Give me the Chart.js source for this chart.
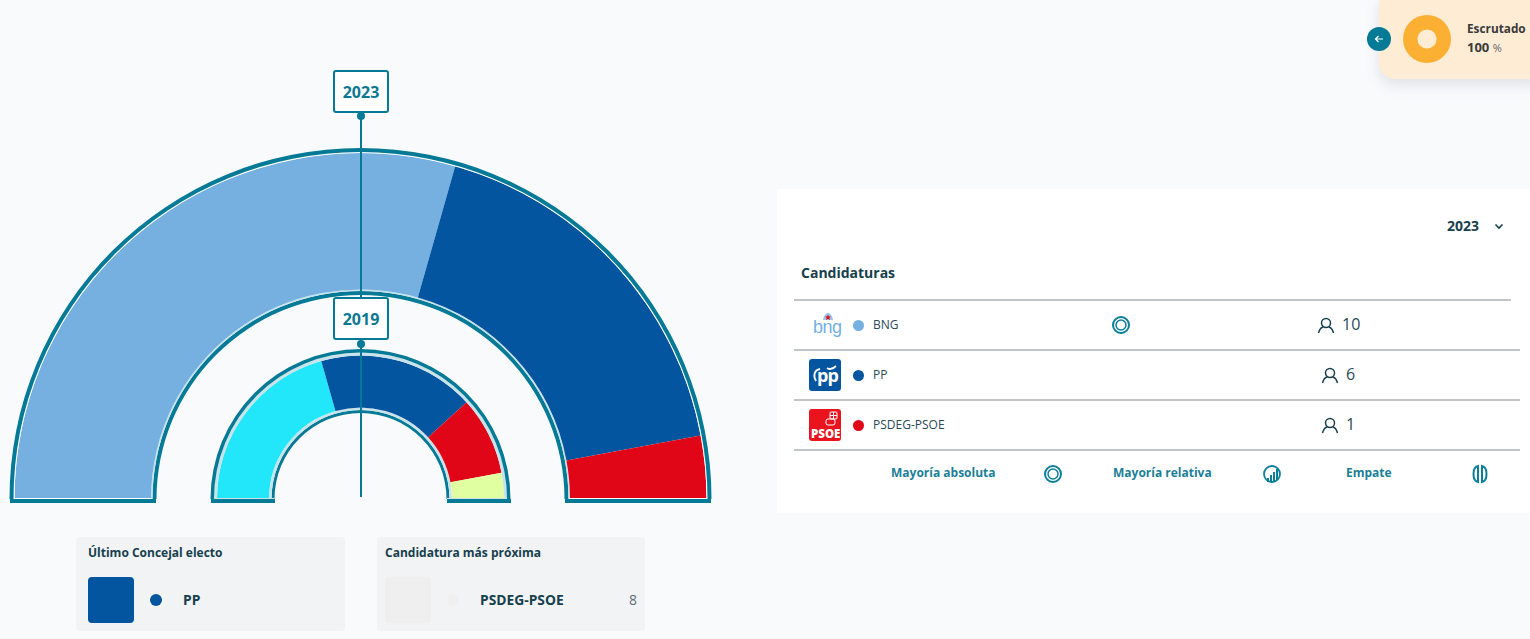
<!DOCTYPE html>
<html>
<head>
<meta charset="utf-8">
<title>Resultados</title>
<script src="https://cdn.jsdelivr.net/npm/chart.js@4/dist/chart.umd.min.js"></script>
<style>
  html, body { margin: 0; padding: 0; }
  body { width: 1530px; height: 639px; background: #f9fafc; font-family: "Open Sans", sans-serif; color: #17404d; position: relative; overflow: hidden; }
  .abs, .abs-t { position: absolute; }
  .abs-t { white-space: nowrap; line-height: 1; transform: translateY(-50%); }
  .teal { background: #047a96; }
  .yearbox { left: 333px; width: 52px; height: 39px; background: #fff; border: 2px solid #047a96; border-radius: 3px; text-align: center; line-height: 41px; font-size: 16px; font-weight: 700; color: #0b7893; }
  .dot { width: 8px; height: 8px; border-radius: 50%; background: #047a96; left: 357px; }
  .rule { height: 2px; background: #c1c5ca; left: 794px; width: 726px; }
  .leg { font-size: 12px; font-weight: 700; color: #1a7f98; }
  .card { background: #f1f3f5; border-radius: 4px; top: 537px; height: 94px; }
  .cardtitle { font-size: 12px; font-weight: 700; top: 552.5px; }
  .cardname { font-size: 13.8px; font-weight: 700; top: 600px; }
</style>
</head>
<body>

<canvas id="hemicycle" class="abs" width="721" height="361" style="left:0;top:143px"></canvas>

<!-- straight feet of the two arcs -->
<div class="abs" style="left:14px;top:498px;width:138px;height:1px;background:#fff"></div>
<div class="abs" style="left:569px;top:498px;width:138px;height:1px;background:#fff"></div>
<div class="abs" style="left:214px;top:498px;width:60px;height:1px;background:#c8e3ea"></div>
<div class="abs" style="left:447px;top:498px;width:60px;height:1px;background:#c8e3ea"></div>
<div class="abs teal" style="left:10px;top:499px;width:146px;height:4px"></div>
<div class="abs teal" style="left:565px;top:499px;width:146px;height:4px"></div>
<div class="abs teal" style="left:211px;top:499px;width:64px;height:4px"></div>
<div class="abs teal" style="left:447px;top:499px;width:64px;height:4px"></div>

<!-- timeline -->
<div class="abs teal" style="left:360px;top:113px;width:2px;height:384px"></div>
<div class="abs dot" style="top:112px"></div>
<div class="abs dot" style="top:340px"></div>
<div class="abs yearbox" style="top:70px">2023</div>
<div class="abs yearbox" style="top:297px">2019</div>

<!-- scrutiny badge -->
<div class="abs" style="left:1379px;top:-10px;width:170px;height:89px;background:#feecd5;border-radius:16px;box-shadow:0 6px 14px rgba(120,120,140,.18)"></div>
<canvas id="scrutiny" class="abs" width="48" height="48" style="left:1403px;top:15px"></canvas>
<div class="abs" style="left:1367px;top:27px;width:24px;height:24px;border-radius:50%;background:#047a96"></div>
<svg class="abs" style="left:1374px;top:34px" width="10" height="10" viewBox="0 0 10 10" fill="none" stroke="#fff" stroke-width="1.2"><path d="M9 5H1.5M4.5 2L1.5 5l3 3"/></svg>
<div class="abs-t" style="left:1467px;top:29px;font-size:11.8px;font-weight:700;color:#3a3a3a">Escrutado</div>
<div class="abs-t" style="left:1467px;top:47px;font-size:13px;font-weight:700;color:#3a3a3a">100 <span style="font-size:11px;font-weight:400;color:#666">%</span></div>

<!-- candidaturas panel -->
<div class="abs" style="left:777px;top:189px;width:753px;height:324px;background:#fff"></div>
<div class="abs-t" style="left:1447px;top:226px;font-size:14px;font-weight:700">2023</div>
<svg class="abs" style="left:1494px;top:223px" width="10" height="7" viewBox="0 0 10 7" fill="none" stroke="#17404d" stroke-width="1.6"><path d="M1.5 1.5L5 5l3.5-3.5"/></svg>
<div class="abs-t" style="left:801px;top:273px;font-size:14px;font-weight:700">Candidaturas</div>
<div class="abs rule" style="top:299px;width:717px"></div>
<div class="abs rule" style="top:349px"></div>
<div class="abs rule" style="top:399px"></div>
<div class="abs rule" style="top:449px"></div>
<div id="rows"></div>

<!-- party logos -->
<div class="abs-t" style="left:813px;top:327px;font-family:'Liberation Sans',sans-serif;font-size:18px;color:#75b0e0;letter-spacing:-.5px">bng</div>
<svg class="abs" style="left:822px;top:312px" width="12" height="10" viewBox="0 0 12 10"><path d="M1 8C2 3 4 1 6 1s4 2 5 7z" fill="#9cc4e6"/><path d="M6 2.500l.8 2 2.100.1-1.600 1.300.6 2.100L6 6.800 4.100 8l.6-2.100L3.100 4.600l2.100-.1z" fill="#e10617"/></svg>
<div class="abs" style="left:809px;top:359px;width:32px;height:32px;background:#04559f;border-radius:3px"></div>
<div class="abs-t" style="left:817px;top:375px;font-size:18px;font-weight:700;color:#fff;letter-spacing:-1px">pp</div>
<svg class="abs" style="left:811px;top:362px" width="28" height="24" viewBox="0 0 28 24" fill="none" stroke="#fff" stroke-width="1.800"><path d="M5 19C2 14 3 8 9 7M16 6c3 2 6 1 9-2"/></svg>
<div class="abs" style="left:809px;top:409px;width:32px;height:32px;background:#e9141d;border-radius:3px"></div>
<div class="abs-t" style="left:811px;top:434px;font-size:11.500px;font-weight:800;color:#fff">PSOE</div>
<svg class="abs" style="left:825px;top:411px" width="13" height="15" viewBox="0 0 13 15" fill="none" stroke="#fff" stroke-width="1"><rect x="5" y="1" width="7" height="7" rx="1"/><path d="M8.500 1v7M5 4.500h7"/><rect x="1" y="8" width="9" height="6" rx="2"/></svg>

<!-- majority icons -->
<svg class="abs" style="left:1111px;top:315px" width="20" height="20" viewBox="0 0 20 20" fill="none" stroke="#0b7f9a"><circle cx="10" cy="10" r="8" stroke-width="2"/><circle cx="10" cy="10" r="5" stroke-width="1.500"/></svg>
<div class="abs-t leg" style="left:891px;top:473px">Mayoría absoluta</div>
<svg class="abs" style="left:1043px;top:464px" width="20" height="20" viewBox="0 0 20 20" fill="none" stroke="#0b7f9a"><circle cx="10" cy="10" r="8" stroke-width="2"/><circle cx="10" cy="10" r="5" stroke-width="1.500"/></svg>
<div class="abs-t leg" style="left:1113px;top:473px">Mayoría relativa</div>
<svg class="abs" style="left:1262px;top:464px" width="20" height="20" viewBox="0 0 20 20" fill="none" stroke="#0b7f9a"><circle cx="10" cy="10" r="8" stroke-width="1.800"/><path d="M6 18v-4M9 18v-7M12 18V8M15 16V5" stroke-width="2"/></svg>
<div class="abs-t leg" style="left:1346px;top:473px">Empate</div>
<svg class="abs" style="left:1470px;top:464px" width="20" height="20" viewBox="0 0 20 20" fill="none" stroke="#0b7f9a" stroke-width="2"><path d="M8 2C2 3 2 17 8 18zM12 2c6 1 6 15 0 16z"/></svg>

<!-- bottom cards -->
<div class="abs card" style="left:76px;width:269px"></div>
<div class="abs-t cardtitle" style="left:88px">Último Concejal electo</div>
<div class="abs" style="left:88px;top:577px;width:46px;height:46px;border-radius:4px;background:#04559f"></div>
<div class="abs" style="left:150px;top:594px;width:12px;height:12px;border-radius:50%;background:#04559f"></div>
<div class="abs-t cardname" style="left:183px">PP</div>

<div class="abs card" style="left:377px;width:268px"></div>
<div class="abs-t cardtitle" style="left:385px">Candidatura más próxima</div>
<div class="abs" style="left:385px;top:577px;width:46px;height:46px;border-radius:4px;background:#efefef"></div>
<div class="abs" style="left:447px;top:594px;width:12px;height:12px;border-radius:50%;background:#efefef"></div>
<div class="abs-t cardname" style="left:480px">PSDEG-PSOE</div>
<div class="abs-t" style="left:629px;top:600px;font-size:14px;color:#5d6f76">8</div>

<script>
const parties2023 = ['BNG', 'PP', 'PSDEG-PSOE'];
const seats2023 = [10, 6, 1];
const colors2023 = ['#75b0e0', '#04559f', '#e10617'];

const parties2019 = ['Candidatura 1', 'PP', 'PSDEG-PSOE', 'Candidatura 2'];
const seats2019 = [7, 6, 3, 1];
const colors2019 = ['#22e6f9', '#04559f', '#e10617', '#e0ffa0'];

const fullRing = [1];
const scrutinized = [100];

const TEAL = '#047a96';
const PALE = '#c8e3ea';

// one ring per dataset, weight = thickness in px, so outlines share the centre
function ring(data, color, weight) {
    return { data: data, backgroundColor: color, weight: weight, borderWidth: 0 };
}

new Chart(document.getElementById('hemicycle').getContext('2d'), {
    type: 'doughnut',
    data: {
        labels: parties2019,
        datasets: [
            ring(fullRing, TEAL, 4),
            ring(fullRing, '#ffffff', 1),
            ring(seats2023, colors2023, 136.5),
            ring(fullRing, PALE, 1.5),
            ring(fullRing, TEAL, 4),
            ring(fullRing, 'rgba(0,0,0,0)', 54),
            ring(fullRing, TEAL, 3.5),
            ring(fullRing, PALE, 3),
            ring(seats2019, colors2019, 52),
            ring(fullRing, PALE, 2.5),
            ring(fullRing, TEAL, 3)
        ]
    },
    options: {
        responsive: false,
        animation: false,
        rotation: -90,
        circumference: 180,
        radius: 351,
        cutout: (86 / 351 * 100) + '%',
        plugins: { legend: { display: false }, tooltip: { enabled: false } }
    }
});

new Chart(document.getElementById('scrutiny').getContext('2d'), {
    type: 'doughnut',
    data: {
        labels: ['Escrutado'],
        datasets: [{ data: scrutinized, backgroundColor: ['#fbb034'], borderWidth: 0 }]
    },
    options: {
        responsive: false,
        animation: false,
        cutout: '40%',
        plugins: { legend: { display: false }, tooltip: { enabled: false } }
    }
});

// table rows
const rowY = [325, 375, 425];
const iconX = [1317, 1321, 1321];
const seatX = [1342, 1346, 1346];
let rowsHtml = '';
parties2023.forEach((name, i) => {
    rowsHtml += '<div class="abs" style="left:853px;top:' + (rowY[i] - 5.5) + 'px;width:11px;height:11px;border-radius:50%;background:' + colors2023[i] + '"></div>';
    rowsHtml += '<div class="abs-t" style="left:873px;top:' + rowY[i] + 'px;font-size:12px;color:#2a4a55">' + name + '</div>';
    rowsHtml += '<svg class="abs" style="left:' + iconX[i] + 'px;top:' + (rowY[i] - 8) + 'px" width="18" height="17" viewBox="0 0 18 17" fill="none" stroke="#17404d" stroke-width="1.500"><circle cx="9" cy="6" r="4.500"/><path d="M1.500 16c1-4 3-5.500 4.500-6M16.500 16c-1-4-3-5.500-4.500-6"/></svg>';
    rowsHtml += '<div class="abs-t" style="left:' + seatX[i] + 'px;top:' + (rowY[i] - 1) + 'px;font-size:16px;color:#2a4a55">' + seats2023[i] + '</div>';
});
document.getElementById('rows').innerHTML = rowsHtml;
</script>
</body>
</html>
